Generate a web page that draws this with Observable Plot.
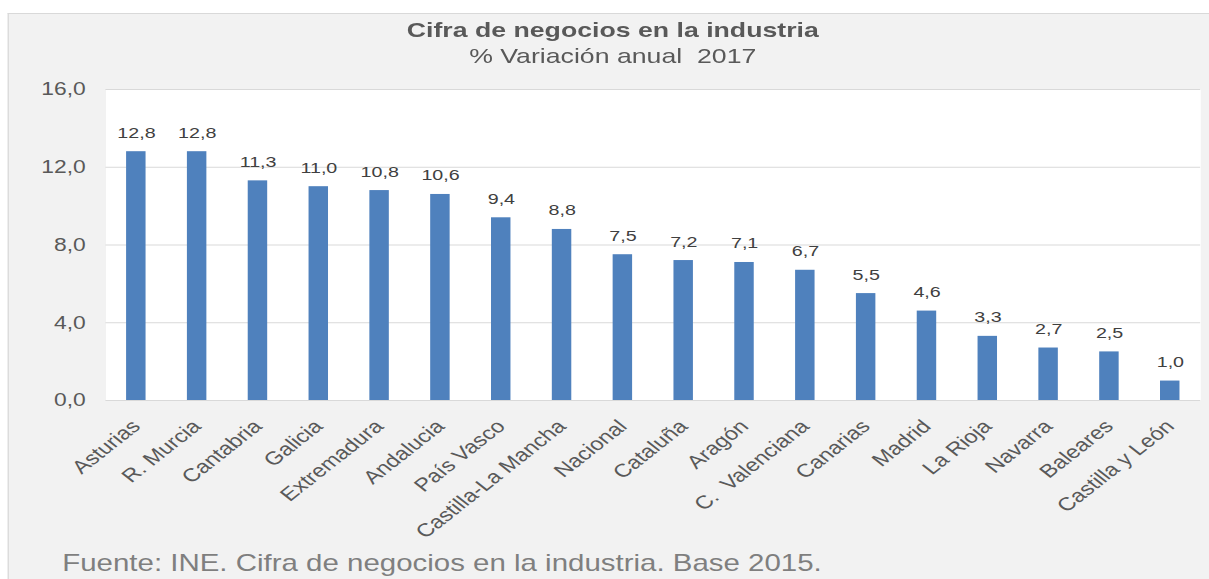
<!DOCTYPE html>
<html>
<head>
<meta charset="utf-8">
<script src="https://cdn.jsdelivr.net/npm/d3@7"></script>
<script src="https://cdn.jsdelivr.net/npm/@observablehq/plot@0.6"></script>
<style>
  html, body { margin: 0; padding: 0; background: #ffffff; overflow: hidden; }
  #wrap {
    position: absolute; left: 0; top: 0; width: 952px; height: 579px;
    transform: scaleX(1.27); transform-origin: 0 0;
    font-family: "Liberation Sans", Arial, sans-serif;
  }
  #panel {
    position: absolute; left: 5.5px; top: 13px; width: 960px; height: 580px;
    background: #f2f2f2; border-top: 1px solid #d9d9d9; border-left: 1px solid #d9d9d9;
  }
  .title, .subtitle {
    position: absolute; left: 0; width: 965px; text-align: center;
    color: #595959; font-size: 21px; line-height: 21px; white-space: pre;
  }
  .title { top: 19px; font-weight: bold; }
  .subtitle { top: 45px; }
  #chart { position: absolute; left: 0; top: 0; }
  #chart svg { white-space: pre; }
  .source {
    position: absolute; left: 49px; top: 552px; color: #7f7f7f;
    font-size: 23.2px; line-height: 23px; white-space: pre;
  }
</style>
</head>
<body>
<div id="wrap">
  <div id="panel"></div>
  <div id="chart"></div>
  <div class="title">Cifra de negocios en la industria</div>
  <div class="subtitle">% Variación anual  2017</div>
  <div class="source">Fuente: INE. Cifra de negocios en la industria. Base 2015.</div>
</div>
<script>
const categories = ["Asturias", "R. Murcia", "Cantabria", "Galicia", "Extremadura", "Andalucia",
  "País Vasco", "Castilla-La Mancha", "Nacional", "Cataluña", "Aragón", "C.  Valenciana",
  "Canarias", "Madrid", "La Rioja", "Navarra", "Baleares", "Castilla y León"];
const values = [12.8, 12.8, 11.3, 11.0, 10.8, 10.6, 9.4, 8.8, 7.5, 7.2, 7.1, 6.7, 5.5, 4.6, 3.3, 2.7, 2.5, 1.0];
const yTicks = [0, 4, 8, 12, 16];

const data = categories.map((c, i) => ({region: c, value: values[i]}));
const fmt = v => v.toFixed(1).replace(".", ",");

const chart = Plot.plot({
  width: 952,
  height: 579,
  marginTop: 89,
  marginBottom: 179,
  marginLeft: 83,
  marginRight: 7,
  style: {background: "transparent", fontFamily: "'Liberation Sans', Arial, sans-serif", overflow: "visible"},
  x: {domain: categories, paddingInner: 0.68, paddingOuter: 0.34, round: false, axis: null},
  y: {domain: [0, 16], label: null},
  marks: [
    Plot.frame({fill: "#ffffff", stroke: "none"}),
    Plot.ruleY(yTicks, {stroke: "#d9d9d9", strokeWidth: 1}),
    Plot.barY(data, {x: "region", y: "value", fill: "#4f81bd"}),
    Plot.axisY({ticks: yTicks, tickFormat: fmt, tickSize: 0, tickPadding: 16, fontSize: 18, color: "#595959", label: null}),
    Plot.text(data, {x: "region", y: "value", text: d => fmt(d.value), dy: -14, lineAnchor: "bottom", fontSize: 15.5, fill: "#404040"}),
    Plot.text(categories, {x: d => d, text: d => d, frameAnchor: "bottom", rotate: -45, textAnchor: "end", lineAnchor: "bottom", dx: 4, dy: 27, fontSize: 18.5, fill: "#595959"})
  ]
});
document.getElementById("chart").appendChild(chart);
</script>
</body>
</html>
